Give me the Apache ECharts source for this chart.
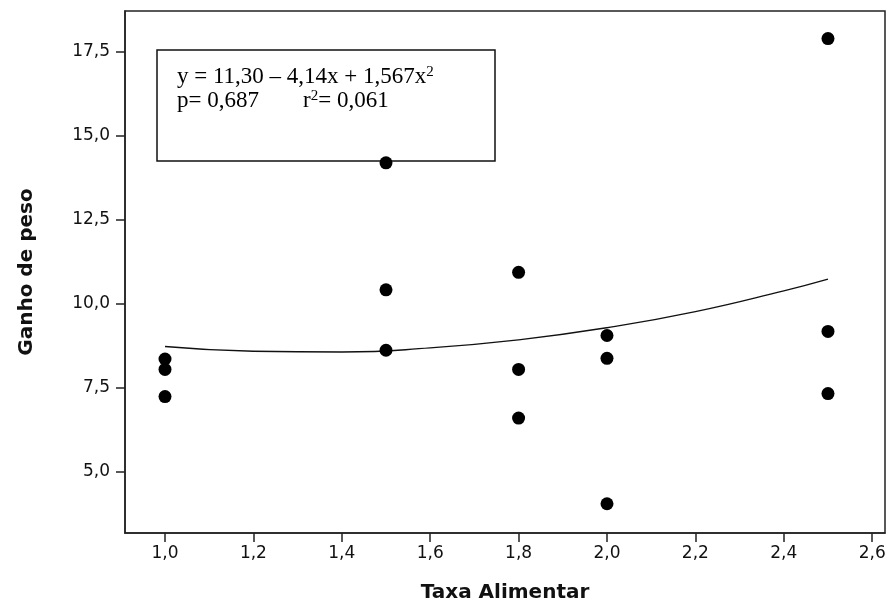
<!DOCTYPE html>
<html>
<head>
<meta charset="utf-8">
<script src="https://cdn.jsdelivr.net/npm/echarts@6/dist/echarts.min.js"></script>
<style>
  html, body { margin: 0; padding: 0; background: #fff; }
  #chart { width: 890px; height: 610px; }
</style>
</head>
<body>
<div id="chart"></div>
<script>
// observed points (Taxa Alimentar, Ganho de peso)
const taxa  = [1.0, 1.0, 1.0, 1.5, 1.5, 1.5, 1.8, 1.8, 1.8, 2.0, 2.0, 2.0, 2.5, 2.5, 2.5];
const ganho = [8.36, 8.05, 7.24, 14.2, 10.42, 8.62, 10.94, 8.05, 6.6, 9.06, 8.38, 4.05, 17.9, 9.18, 7.33];

// fitted curve
const fitX = [1.0, 1.2, 1.4, 1.6, 1.8, 2.0, 2.2, 2.4, 2.5];
const fitY = [8.73, 8.59, 8.57, 8.69, 8.93, 9.29, 9.77, 10.39, 10.74];

const xTicks = [1.0, 1.2, 1.4, 1.6, 1.8, 2.0, 2.2, 2.4, 2.6];
const yTicks = [5.0, 7.5, 10.0, 12.5, 15.0, 17.5];

const fmt = v => v.toFixed(1).replace('.', ',');

const chart = echarts.init(document.getElementById('chart'), null, { renderer: 'canvas' });

const axisFont = { fontFamily: 'DejaVu Sans', fontSize: 17, color: '#111' };
const nameFont = { fontFamily: 'DejaVu Sans', fontSize: 20, fontWeight: 'bold', color: '#111' };
const serif = { fontFamily: 'Liberation Serif', fontSize: 23, fill: '#000', lineHeight: 24 };
const sup = { fontFamily: 'Liberation Serif', fontSize: 15, fill: '#000', verticalAlign: 'top', lineHeight: 24, padding: [0, 0, 9, 0] };

chart.setOption({
  animation: false,
  backgroundColor: '#fff',
  grid: {
    left: 125, right: 5, top: 11, bottom: 77,
    show: true, borderColor: '#222', borderWidth: 1.5
  },
  xAxis: {
    type: 'value',
    min: 0.9095, max: 2.629,
    name: 'Taxa Alimentar',
    nameLocation: 'middle',
    nameGap: 50,
    nameTextStyle: nameFont,
    splitLine: { show: false },
    axisLine: { show: true, lineStyle: { color: '#222', width: 1.5 } },
    axisTick: { show: true, inside: false, length: 9, customValues: xTicks, lineStyle: { color: '#222', width: 1.5 } },
    axisLabel: Object.assign({ margin: 12, customValues: xTicks, formatter: fmt }, axisFont)
  },
  yAxis: {
    type: 'value',
    min: 3.18, max: 18.72,
    name: 'Ganho de peso',
    nameLocation: 'middle',
    nameGap: 88,
    nameRotate: 90,
    nameTextStyle: nameFont,
    splitLine: { show: false },
    axisLine: { show: true, lineStyle: { color: '#222', width: 1.5 } },
    axisTick: { show: true, inside: false, length: 9, customValues: yTicks, lineStyle: { color: '#222', width: 1.5 } },
    axisLabel: Object.assign({ margin: 15, customValues: yTicks, formatter: fmt }, axisFont)
  },
  graphic: [
    {
      type: 'rect',
      shape: { x: 157, y: 50, width: 338, height: 111 },
      style: { fill: '#fff', stroke: '#111', lineWidth: 1.5 },
      z: 10
    },
    {
      type: 'text',
      x: 177, y: 65,
      z: 11,
      style: { text: '{t|y = 11,30 – 4,14x + 1,567x}{s|2}', rich: { t: serif, s: sup } }
    },
    {
      type: 'text',
      x: 177, y: 89,
      z: 11,
      style: { text: '{t|p= 0,687}', rich: { t: serif } }
    },
    {
      type: 'text',
      x: 303, y: 89,
      z: 11,
      style: { text: '{t|r}{s|2}{t|= 0,061}', rich: { t: serif, s: sup } }
    }
  ],
  series: [
    {
      type: 'line',
      data: fitX.map((x, i) => [x, fitY[i]]),
      smooth: true,
      showSymbol: false,
      lineStyle: { color: '#111', width: 1.4 },
      z: 2
    },
    {
      type: 'scatter',
      data: taxa.map((x, i) => [x, ganho[i]]),
      symbol: 'circle',
      symbolSize: 13,
      itemStyle: { color: '#000', opacity: 1 },
      z: 20
    }
  ]
});
</script>
</body>
</html>
